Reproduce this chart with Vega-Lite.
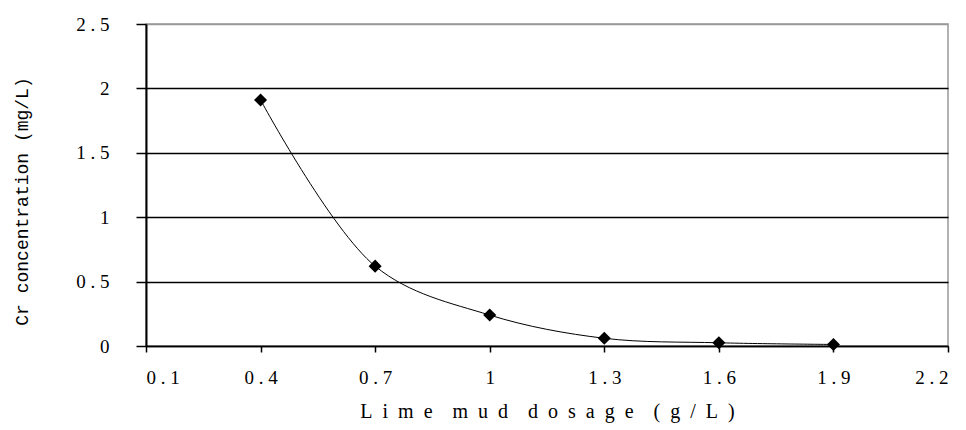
{
  "$schema": "https://vega.github.io/schema/vega-lite/v6.json",
  "width": 802,
  "height": 322,
  "autosize": {"type": "none"},
  "padding": {"left": 146, "top": 24, "right": 18, "bottom": 84},
  "background": "white",
  "config": {
    "view": {"stroke": "#999999", "strokeWidth": 1.5},
    "font": "Liberation Serif"
  },
  "data": {
    "values": [
      {"dosage": 0.4, "cr": 1.91},
      {"dosage": 0.7, "cr": 0.62},
      {"dosage": 1.0, "cr": 0.24},
      {"dosage": 1.3, "cr": 0.06},
      {"dosage": 1.6, "cr": 0.025},
      {"dosage": 1.9, "cr": 0.012}
    ]
  },
  "encoding": {
    "x": {
      "field": "dosage",
      "type": "quantitative",
      "scale": {"domain": [0.1, 2.2], "nice": false, "zero": false},
      "axis": {
        "values": [0.1, 0.4, 0.7, 1, 1.3, 1.6, 1.9, 2.2],
        "labelExpr": "replace(format(datum.value, '~g'), '.', '\u00a0.\u00a0')",
        "grid": false,
        "tickSize": 6,
        "tickColor": "black",
        "tickWidth": 1.5,
        "domainColor": "black",
        "domainWidth": 1.5,
        "labelFont": "Liberation Serif",
        "labelFontSize": 19,
        "labelColor": "black",
        "labelPadding": 16,
        "title": "L\u2002i\u2002m\u2002e\u2002\u2002m\u2002u\u2002d\u2002\u2002d\u2002o\u2002s\u2002a\u2002g\u2002e\u2002\u2002(\u2002g\u2002/\u2002L\u2002)",
        "titleFont": "Liberation Serif",
        "titleFontSize": 20,
        "titleFontWeight": "normal",
        "titleColor": "black",
        "titleBaseline": "middle",
        "titleY": 65
      }
    },
    "y": {
      "field": "cr",
      "type": "quantitative",
      "scale": {"domain": [0, 2.5], "nice": false},
      "axis": {
        "values": [0, 0.5, 1, 1.5, 2, 2.5],
        "labelExpr": "replace(format(datum.value, '~g'), '.', '\u00a0.\u00a0')",
        "grid": true,
        "gridColor": {"condition": {"test": "datum.value >= 2.5", "value": "#999999"}, "value": "black"},
        "gridWidth": 1.5,
        "tickSize": 10,
        "tickColor": "black",
        "tickWidth": 1.5,
        "domainColor": "black",
        "domainWidth": 2,
        "labelFont": "Liberation Serif",
        "labelFontSize": 19,
        "labelColor": "black",
        "labelPadding": 27,
        "title": "Cr concentration (mg/L)",
        "titleFont": "Liberation Mono",
        "titleFontSize": 18,
        "titleFontWeight": "normal",
        "titleColor": "black",
        "titleBaseline": "middle",
        "titleX": -124,
        "titleY": 177
      }
    }
  },
  "layer": [
    {
      "mark": {"type": "line", "interpolate": "catmull-rom", "color": "black", "strokeWidth": 1}
    },
    {
      "mark": {"type": "point", "shape": "diamond", "filled": true, "color": "black", "opacity": 1, "size": 170}
    }
  ]
}
